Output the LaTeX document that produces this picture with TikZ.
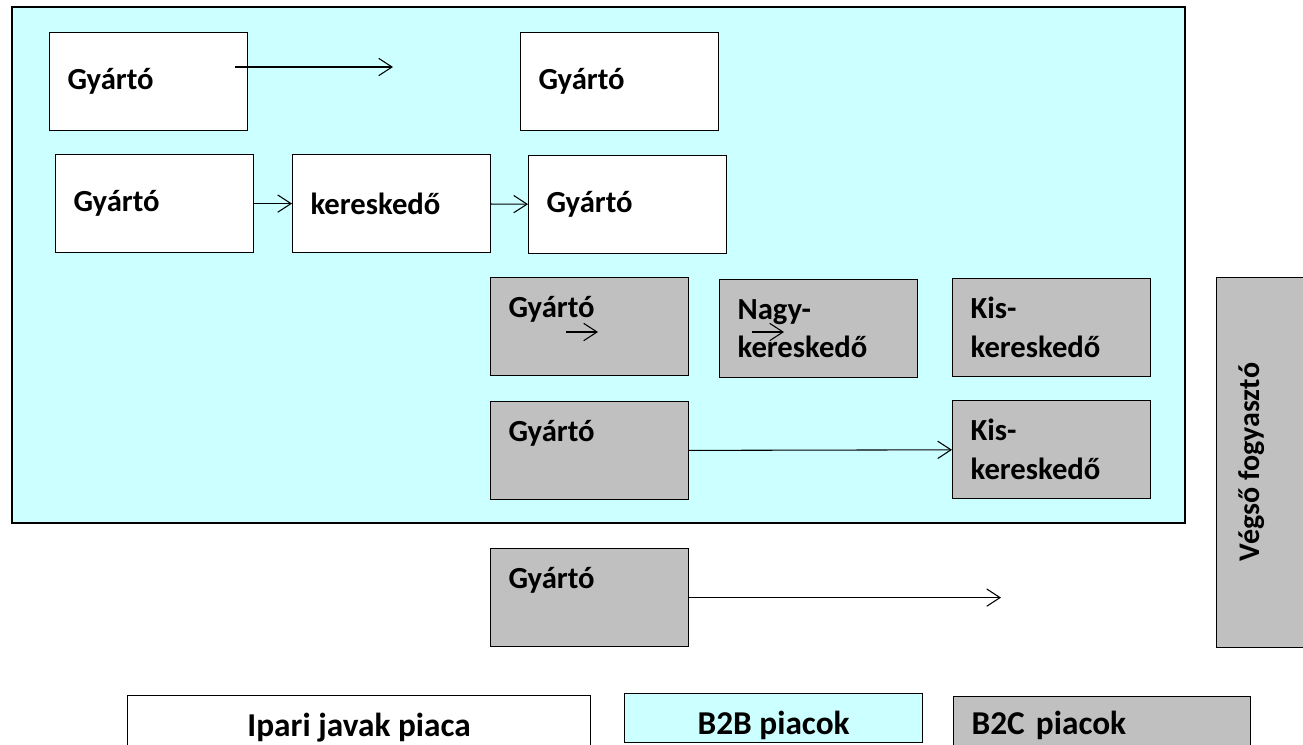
\documentclass[tikz,border=0pt]{standalone}
\usepackage{fontspec}
\setmainfont{Carlito}
\usetikzlibrary{arrows.meta, positioning}

\definecolor{btob}{HTML}{CCFFFF}
\definecolor{btoc}{HTML}{C0C0C0}

\tikzset{
  wbox/.style={draw, line width=0.9pt, fill=white, anchor=north west,
    minimum height=73.5pt, text width=121.5pt, inner xsep=13.5pt, align=left,
    font=\fontsize{23}{29}\selectfont\bfseries},
  gbox/.style={wbox, fill=btoc},
  legend/.style={draw, line width=0.9pt, anchor=north west, inner ysep=0pt,
    text depth=0pt, font=\fontsize{25}{29}\selectfont\bfseries},
  flow/.style={-{Straight Barb[length=10pt, width=13pt]}, line width=0.8pt},
}

\begin{document}
\begin{tikzpicture}[x=0.75pt, y=-0.75pt]
    \useasboundingbox (0,0) rectangle (1303,744);

    % B2B area
    \draw[line width=0.9pt, fill=btob] (12,7) rectangle (1185,523);

    % Ipari javak
    \node[wbox] (gy1) at (49,32) {Gyártó};
    \node[wbox] (gy1b) at (520,32) {Gyártó};
    \coordinate (a1s) at (235,67);
    \coordinate (a1e) at (393,67);
    \draw[flow] (a1s) -- (a1e);

    \node[wbox] (gy2) at (55,154) {Gyártó};
    \node[wbox] (ker2) at (292,154) {kereskedő};
    \node[wbox] (gy2b) at (528,155) {Gyártó};
    \draw[flow] (gy2) -- (ker2);
    \draw[flow] (ker2) -- (gy2b);

    % B2C
    \node[gbox] (gy3) at (490,277) {Gyártó\\\mbox{}};
    \node[gbox] (nagy3) at (719,279) {Nagy-\\kereskedő};
    \node[gbox] (kis3) at (952,278) {Kis-\\kereskedő};
    \coordinate (a3s) at (566,332);
    \coordinate (a3e) at (598,332);
    \draw[flow] (a3s) -- (a3e);
    \coordinate (b3s) at (752,332);
    \coordinate (b3e) at (784,332);
    \draw[flow] (b3s) -- (b3e);

    \node[gbox] (gy4) at (490,401) {Gyártó\\\mbox{}};
    \node[gbox] (kis4) at (952,400) {Kis-\\kereskedő};
    \draw[flow] (gy4) -- (kis4);

    \node[gbox] (gy5) at (490,548) {Gyártó\\\mbox{}};
    \coordinate (a5e) at (1001,600);
    \draw[flow] (gy5.east) -- (gy5.east -| a5e);

    % Vegso fogyaszto
    \node[draw, line width=0.9pt, fill=btoc, anchor=north west,
          minimum width=72pt, minimum height=277.5pt] (veg) at (1216,277) {};
    \node[rotate=90, font=\fontsize{22.5}{29}\selectfont\bfseries] (vegtxt) at (1252,462) {Végső fogyasztó};

    % Legend
    \node[legend, fill=white, minimum width=347.25pt, minimum height=45pt,
          text height=16.5pt] (ipari) at (127,695) {Ipari javak piaca};
    \node[legend, fill=btob, minimum width=223.5pt, minimum height=36.75pt,
          text height=24.75pt] (b2b) at (624,693) {B2B piacok};
    \node[legend, fill=btoc, minimum width=222.75pt, minimum height=45pt,
          text height=12pt, text width=195.75pt, inner xsep=13.5pt, align=left] (b2c) at (953,696) {B2C piacok};
\end{tikzpicture}
\end{document}
